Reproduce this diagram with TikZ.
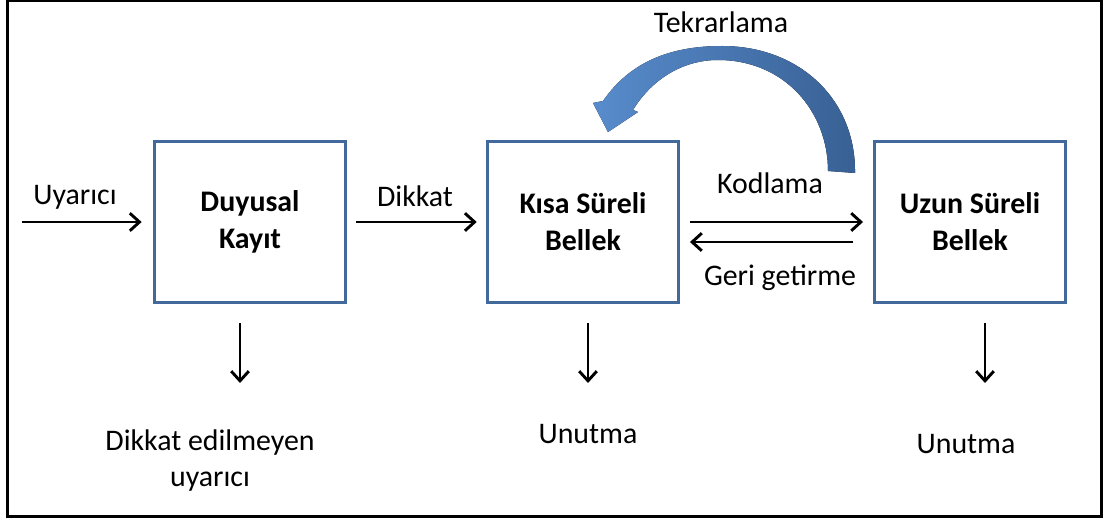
\documentclass[tikz,border=0pt]{standalone}
\usepackage{fontspec}
\setmainfont{Carlito}
\usepackage{xcolor}
\usepackage{tikz}
\usetikzlibrary{
  arrows.meta,
  calc
}
\definecolor{boxblue}{RGB}{65,105,155}
\definecolor{arrowlight}{RGB}{88,140,204}
\definecolor{arrowdark}{RGB}{56,96,148}
\tikzset{
  store/.style={
    draw=boxblue,
    line width=1.7pt,
    minimum width=3.84cm,
    minimum height=3.24cm,
    align=center,
    font=\fontsize{17}{21}\selectfont\bfseries},
  flow/.style={
    -{Straight Barb[length=5.5pt,width=10pt]},
    line width=1.65pt},
  lbl/.style={
    font=\fontsize{17}{20.5}\selectfont,
    align=center}
  }

\begin{document}
\begin{tikzpicture}[x=0.02cm, y=-0.02cm]
		\useasboundingbox (0,0) rectangle (1103,520);
		\draw [line width=1.7pt] (7.5,0.5) rectangle (1101.5,516.5);
		\node [store] (dk) at (250,222) {Duyusal\\Kayıt};
		\node [store] (ksb) at (583,222) {Kısa Süreli\\Bellek};
		\node [store] (usb) at (970,222) {Uzun Süreli\\Bellek};
		\coordinate (in) at (22,222);
		\coordinate (alt) at (780,242);
		\coordinate (d1a) at (240,323);
		\coordinate (d1b) at (240,383);
		\coordinate (d2a) at (588,323);
		\coordinate (d2b) at (588,383);
		\coordinate (d3a) at (985,323);
		\coordinate (d3b) at (985,383);
		\node [lbl] (uyarici) at (75,197) {Uyarıcı};
		\node [lbl] (dikkat) at (415,196) {Dikkat};
		\node [lbl] (kodlama) at (770,183) {Kodlama};
		\node [lbl] (geri) at (780,278) {Geri getirme};
		\node [lbl] (tekrar) at (721,22) {Tekrarlama};
		\node [lbl] (ihmal) at (210,461) {Dikkat edilmeyen\\uyarıcı};
		\node [lbl] (unut1) at (588,434) {Unutma};
		\node [lbl] (unut2) at (966,444) {Unutma};
		\draw [flow, shorten >=6.2pt] (in) to (dk);
		\draw [flow, shorten <=5pt, shorten >=5pt] (dk) to (ksb);
		\draw [flow, shorten <=5.4pt, shorten >=5.4pt] (ksb.east) to (usb.west);
		\draw [flow, shorten <=11pt, shorten >=5.4pt] (usb.west |- alt) to (ksb.east |- alt);
		\draw [flow] (d1a) to (d1b);
		\draw [flow] (d2a) to (d2b);
		\draw [flow] (d3a) to (d3b);
		% tekrarlama oku
		\fill [left color=arrowlight, right color=arrowdark]
			(603,101) .. controls (630,62) and (670,46) .. (722,46)
			.. controls (800,46) and (856,100) .. (855,173)
			-- (828,171) .. controls (828,112) and (785,60) .. (718,60)
			.. controls (680,60) and (650,82) .. (633,110)
			-- (638,112) -- (608,132) -- (593,103) -- cycle;
	\end{tikzpicture}
\end{document}
